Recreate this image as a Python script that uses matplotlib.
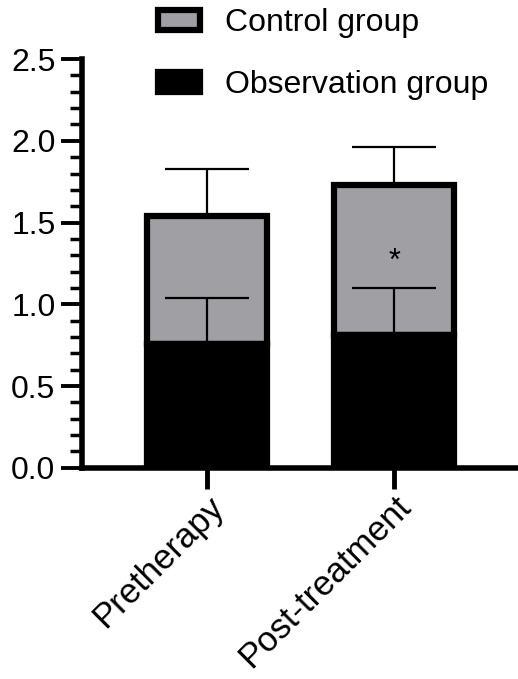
import matplotlib
matplotlib.use("Agg")
import matplotlib.pyplot as plt
from matplotlib.patches import Patch
from matplotlib.ticker import MultipleLocator

plt.rcParams['font.family'] = ['Liberation Sans', 'DejaVu Sans']

categories = ["Pretherapy", "Post-treatment"]
observation = [0.76, 0.81]
observation_err = [0.28, 0.29]
control = [0.78, 0.92]
control_err = [0.29, 0.23]
significance = ["", "*"]

fig = plt.figure(figsize=(5.18, 6.79), dpi=100)
ax = fig.add_axes([0.158, 0.311, 0.842, 0.602])

x = list(range(len(categories)))
width = 0.64
lw_edge = 4.5

tops = [o + c for o, c in zip(observation, control)]

ax.errorbar(x, tops, yerr=[[0] * 2, control_err], fmt='none',
            ecolor='black', elinewidth=1.6, capsize=30, capthick=1.6, zorder=3)

ax.bar(x, control, bottom=observation, width=width, color='#a0a0a4',
       edgecolor='black', linewidth=lw_edge, zorder=2)
ax.bar(x, observation, width=width, color='black', edgecolor='black',
       linewidth=lw_edge, zorder=2.5)
ax.errorbar(x, observation, yerr=[[0] * 2, observation_err], fmt='none',
            ecolor='black', elinewidth=1.6, capsize=30, capthick=1.6, zorder=3)

for xi, s in zip(x, significance):
    if s:
        ax.text(xi, 1.17, s, ha='center', va='bottom', fontsize=22)

ax.set_xlim(-0.665, 1.66)
ax.set_ylim(0, 2.5)
ax.yaxis.set_major_locator(MultipleLocator(0.5))
ax.yaxis.set_minor_locator(MultipleLocator(0.1))
ax.yaxis.set_major_formatter(matplotlib.ticker.FormatStrFormatter('%.1f'))
ax.set_xticks(x)
ax.set_xticklabels(categories, rotation=45, ha='right', rotation_mode='anchor')

for s in ['top', 'right']:
    ax.spines[s].set_visible(False)
for s in ['left', 'bottom']:
    ax.spines[s].set_linewidth(4)
ax.tick_params(axis='y', which='major', length=15, width=2.8, labelsize=23, pad=4)
ax.tick_params(axis='y', which='minor', length=9, width=2.5)
ax.tick_params(axis='x', which='major', length=15, width=3.5, labelsize=25, pad=1)

handles = [Patch(facecolor='#a0a0a4', edgecolor='black', linewidth=4.5, label='Control group'),
           Patch(facecolor='black', edgecolor='black', linewidth=4.5, label='Observation group')]
fig.legend(handles=handles, loc='upper left', bbox_to_anchor=(0.25, 1.03),
           frameon=False, fontsize=23, handlelength=1.3, handleheight=0.6,
           handletextpad=0.8, labelspacing=1.0)

fig.savefig("out.png", dpi=100)
